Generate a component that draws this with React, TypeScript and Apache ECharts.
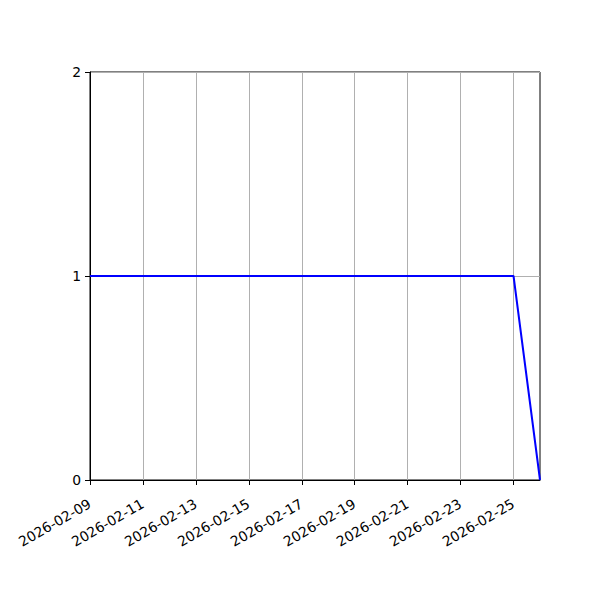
import React, { useEffect, useRef } from "react";
import * as echarts from "echarts";

const dates = [
  "2026-02-09", "2026-02-10", "2026-02-11", "2026-02-12", "2026-02-13", "2026-02-14",
  "2026-02-15", "2026-02-16", "2026-02-17", "2026-02-18", "2026-02-19", "2026-02-20",
  "2026-02-21", "2026-02-22", "2026-02-23", "2026-02-24", "2026-02-25", "2026-02-26",
];
const values = [1, 1, 1, 1, 1, 1, 1, 1, 1, 1, 1, 1, 1, 1, 1, 1, 1, 0];
const yTicks = [0, 1, 2];

const DAY = 86400000;
const t0 = Date.parse(dates[0] + "T00:00:00Z");
const dayIndex = (d: string) => Math.round((Date.parse(d + "T00:00:00Z") - t0) / DAY);
const lastIdx = dayIndex(dates[dates.length - 1]);
const xTickValues: number[] = [];
for (let i = 0; i < lastIdx; i += 2) xTickValues.push(i);
const fmtDate = (v: number) => new Date(t0 + v * DAY).toISOString().slice(0, 10);

export default function App() {
  const ref = useRef<HTMLDivElement>(null);
  useEffect(() => {
    document.body.style.margin = "0";
    const chart = echarts.init(ref.current!, null, { renderer: "svg" });
    const font = { fontFamily: "DejaVu Sans", fontSize: 13.9, color: "#000" };
    chart.setOption({
      animation: false,
      backgroundColor: "#fff",
      grid: {
        left: 90, top: 72, width: 450, height: 408,
        show: true, borderColor: "#000", borderWidth: 1, backgroundColor: "transparent",
      },
      xAxis: {
        type: "value",
        min: 0,
        max: lastIdx,
        interval: 2,
        axisLine: { show: true, onZero: false, lineStyle: { color: "#000", width: 1 } },
        axisTick: { show: true, length: 5, customValues: xTickValues, lineStyle: { color: "#000" } },
        axisLabel: {
          ...font,
          rotate: 30,
          margin: 13,
          align: "right",
          verticalAlign: "top",
          lineHeight: 16,
          padding: [0, 5, 0, 0],
          customValues: xTickValues,
          formatter: (v: number) => fmtDate(v),
        },
        splitLine: { show: true, lineStyle: { color: "#b0b0b0", width: 1 } },
      },
      yAxis: {
        type: "value",
        min: yTicks[0],
        max: yTicks[yTicks.length - 1],
        interval: 1,
        axisLine: { show: true, lineStyle: { color: "#000", width: 1 } },
        axisTick: { show: true, length: 5, lineStyle: { color: "#000" } },
        axisLabel: { ...font, margin: 9 },
        splitLine: { show: true, lineStyle: { color: "#b0b0b0", width: 1 } },
      },
      series: [
        {
          type: "line",
          data: dates.map((d, i) => [dayIndex(d), values[i]]),
          showSymbol: false,
          symbol: "none",
          lineStyle: { color: "#0000ff", width: 2 },
          itemStyle: { color: "#0000ff" },
          clip: false,
        },
      ],
    });
    return () => chart.dispose();
  }, []);
  return <div ref={ref} style={{ width: 600, height: 600 }} />;
}
